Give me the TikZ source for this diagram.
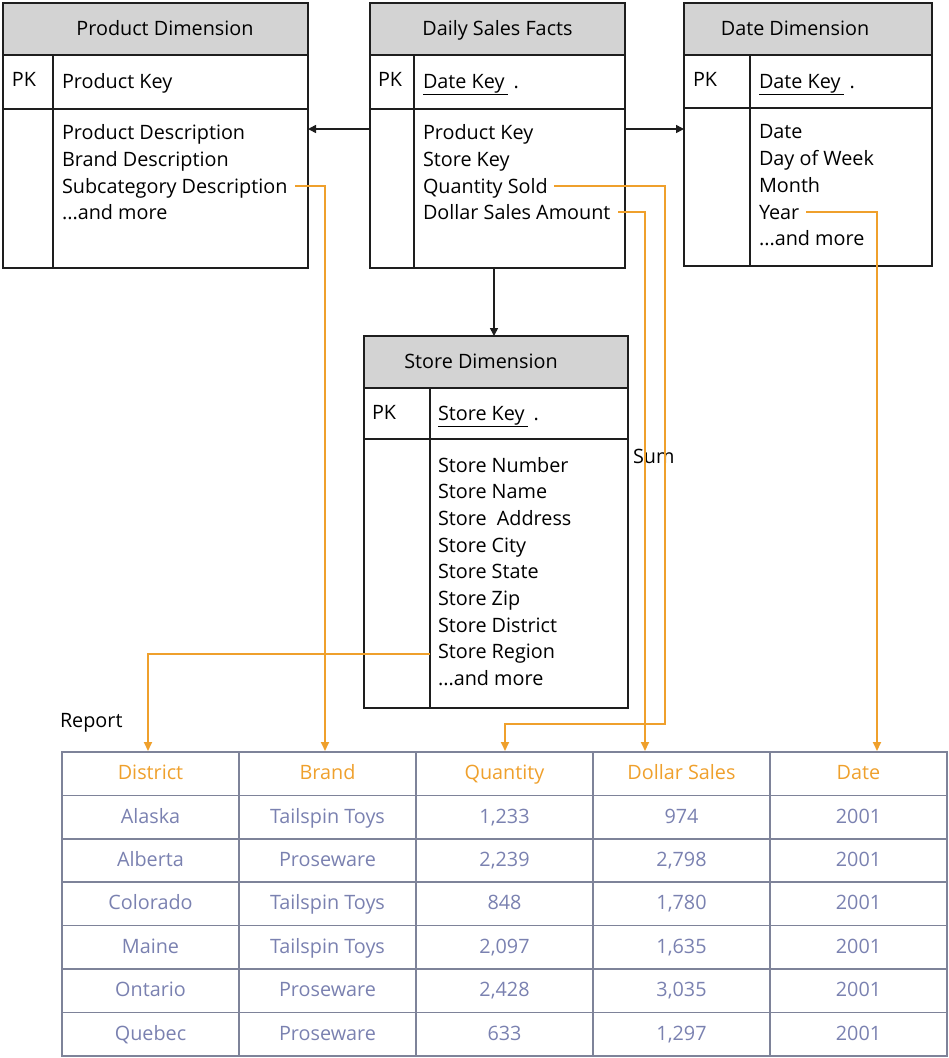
\documentclass[tikz,border=0pt]{standalone}
\usepackage{fontspec}
\setmainfont{Open Sans}
\usetikzlibrary{arrows.meta}

\definecolor{hdrgray}{HTML}{D3D3D3}
\definecolor{ink}{HTML}{1E1E1E}
\definecolor{flow}{HTML}{EFA02C}
\definecolor{grid}{HTML}{7E8399}
\definecolor{cellink}{HTML}{7A81B0}

% entity box: name, x1, y1, x2, y2, divider x, header bottom, key-row bottom
\newcommand\erbox[8]{%
  \fill[hdrgray] (#2,#3) rectangle (#4,#7);
  \draw[boxline] (#2,#3) rectangle (#4,#5);
  \draw[boxline] (#2,#7) -- (#4,#7) (#2,#8) -- (#4,#8) (#6,#7) -- (#6,#5);
}

\tikzset{
  every node/.style={inner sep=0pt, outer sep=0pt},
  txt/.style={font=\fontsize{19.8}{22}\selectfont},
  boxline/.style={draw=ink, line width=1.6pt},
  field/.style={txt, anchor=base west, text=black},
  title/.style={txt, anchor=base, text=black},
  fk/.style={-{Triangle[length=8pt,width=8pt]}, line width=1.6pt, draw=ink},
  feed/.style={-{Triangle[length=9pt,width=8pt]}, line width=1.8pt, draw=flow},
  cellbox/.style={draw=grid, line width=1.6pt, minimum width=177pt, minimum height=43.4pt,
    txt, text height=14pt, text depth=2pt},
  headcell/.style={cellbox, text=flow},
  datacell/.style={cellbox, text=cellink},
}

\begin{document}
\begin{tikzpicture}[x=1pt,y=-1pt]
\useasboundingbox (0,0) rectangle (949,1058);

% ---------- star schema tables ----------
\erbox{prod}{3}{3}{308}{268}{53}{55}{109}
\erbox{fact}{370}{3}{625}{268}{414}{55}{109}
\erbox{date}{684}{3}{932}{266}{750}{55}{108}
\erbox{store}{364}{336}{628}{708}{430}{388}{439}

\node[title] (prodT) at (165,35) {Product Dimension};
\node[title] (factT) at (497.5,35) {Daily Sales Facts};
\node[title] (dateT) at (795,35) {Date Dimension};
\node[title] (storeT) at (481,368) {Store Dimension};

\node[field] (prodPK) at (12,86) {PK};
\node[field] (factPK) at (378,86) {PK};
\node[field] (datePK) at (693,86) {PK};
\node[field] (storePK) at (372,419) {PK};

\node[field] (prodKey) at (62,88) {Product Key};
\node[field] (factKey) at (423,88) {\underline{Date Key\kern3pt}\kern6pt.};
\node[field] (dateKey) at (759,88) {\underline{Date Key\kern3pt}\kern6pt.};
\node[field] (storeKey) at (438,420) {\underline{Store Key\kern3pt}\kern6pt.};

% product attributes
\node[field] (prod1) at (62,139) {Product Description};
\node[field] (prod2) at (62,166) {Brand Description};
\node[field] (subcat) at (62,193) {Subcategory Description};
\node[field] (prod4) at (62,219) {...and more};

% fact columns
\node[field] (fact1) at (423,139) {Product Key};
\node[field] (fact2) at (423,166) {Store Key};
\node[field] (qty) at (423,193) {Quantity Sold};
\node[field] (dollar) at (423,219) {Dollar Sales Amount};

% date attributes
\node[field] (date1) at (759,138) {Date};
\node[field] (date2) at (759,165) {Day of Week};
\node[field] (date3) at (759,192) {Month};
\node[field] (year) at (759,219) {Year};
\node[field] (date5) at (759,245) {...and more};

% store attributes
\node[field] (st1) at (438,472) {Store Number};
\node[field] (st2) at (438,498.7) {Store Name};
\node[field] (st3) at (438,525.3) {Store\ \ Address};
\node[field] (st4) at (438,552) {Store City};
\node[field] (st5) at (438,578.6) {Store State};
\node[field] (st6) at (438,605.3) {Store Zip};
\node[field] (st7) at (438,632) {Store District};
\node[field] (region) at (438,658.6) {Store Region};
\node[field] (st9) at (438,685.3) {...and more};

% foreign-key links
\coordinate (factW) at (370,129);
\coordinate (prodE) at (308,129);
\coordinate (factE) at (625,129);
\coordinate (dateW) at (684,129);
\coordinate (factS) at (494,268);
\coordinate (storeN) at (494,336);
\draw[fk] (factW) -- (prodE);
\draw[fk] (factE) -- (dateW);
\draw[fk] (factS) -- (storeN);

% ---------- report ----------
\node[field] (reportT) at (60,727) {Report};
\node[field] (sumT) at (633,463) {Sum};

\foreach \c/\t [count=\i from 0] in {District/District, Brand/Brand, Qty/Quantity, Dollar/Dollar Sales, Date/Date}
  \node[headcell] (h\c) at (150.5+177*\i, 773.7) {\t};

\foreach \r/\a/\b/\q [count=\j] in {
    Alaska/Tailspin Toys/{1,233}/974,
    Alberta/Proseware/{2,239}/{2,798},
    Colorado/Tailspin Toys/848/{1,780},
    Maine/Tailspin Toys/{2,097}/{1,635},
    Ontario/Proseware/{2,428}/{3,035},
    Quebec/Proseware/633/{1,297}}{
  \node[datacell] (r\j c1) at (150.5, 773.7+43.4*\j) {\r};
  \node[datacell] (r\j c2) at (327.5, 773.7+43.4*\j) {\a};
  \node[datacell] (r\j c3) at (504.5, 773.7+43.4*\j) {\b};
  \node[datacell] (r\j c4) at (681.5, 773.7+43.4*\j) {\q};
  \node[datacell] (r\j c5) at (858.5, 773.7+43.4*\j) {2001};
}

% ---------- attribute flows into the report ----------
\coordinate (inDistrict) at (148,751);
\coordinate (inBrand) at (325,751);
\coordinate (qtyBend) at (665,724);
\coordinate (inQty) at (505,751);
\coordinate (inDollar) at (645,751);
\coordinate (inDate) at (877,751);

\draw[feed] ([shift={(8,-7)}]subcat.base east) -| (inBrand);
\draw[feed] ([shift={(6,-7)}]qty.base east) -| (qtyBend) -| (inQty);
\draw[feed] ([shift={(8,-7)}]dollar.base east) -| (inDollar);
\draw[feed] ([shift={(7,-7)}]year.base east) -| (inDate);
\draw[feed] ([shift={(-8,-5)}]region.base west) -| (inDistrict);
\end{tikzpicture}
\end{document}
